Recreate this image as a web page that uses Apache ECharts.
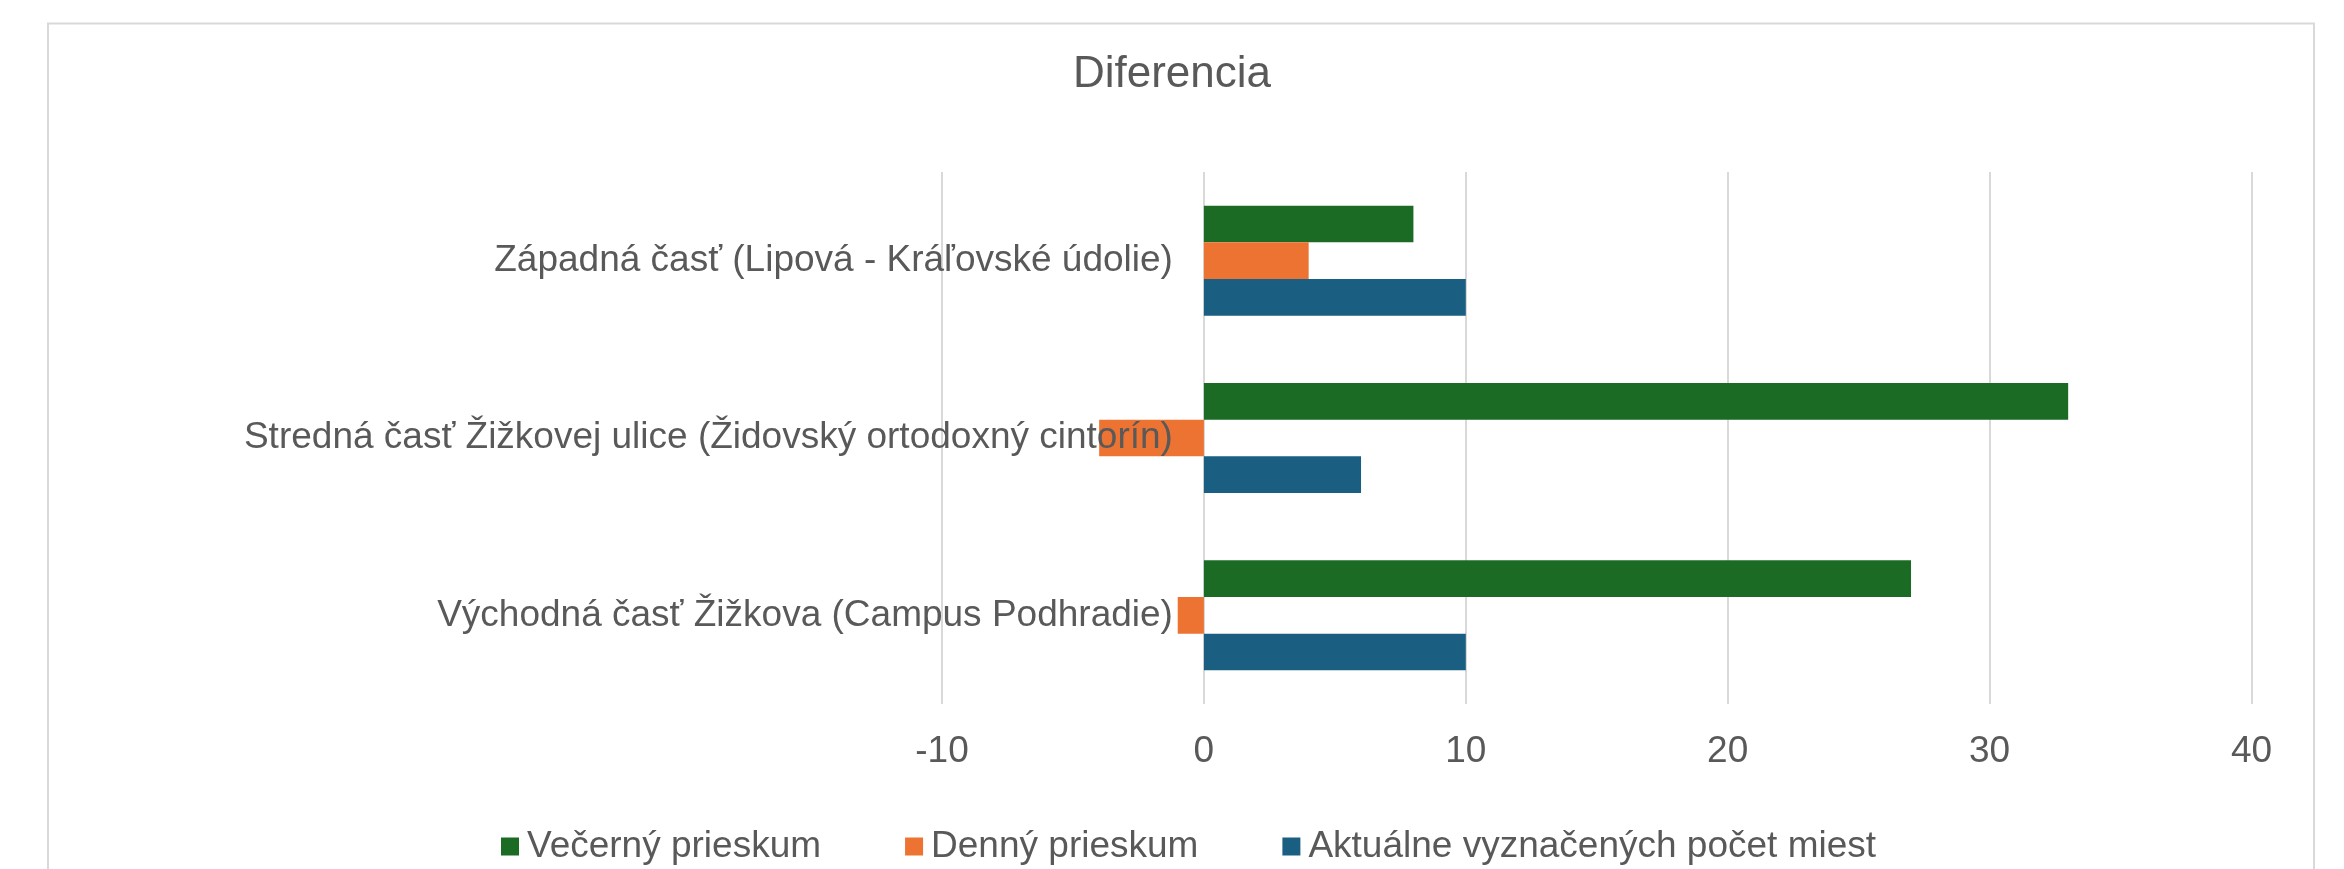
<!DOCTYPE html>
<html>
<head>
<meta charset="utf-8">
<script src="https://cdn.jsdelivr.net/npm/echarts@6/dist/echarts.min.js"></script>
<style>
html,body{margin:0;padding:0;background:#fff;}
#chart{width:2344px;height:869px;}
</style>
</head>
<body>
<div id="chart"></div>
<script>
const titleText = 'Diferencia';
const categories = [
  'Západná časť (Lipová - Kráľovské údolie)',
  'Stredná časť Žižkovej ulice (Židovský ortodoxný cintorín)',
  'Východná časť Žižkova (Campus Podhradie)'
];
const seriesNames = ['Večerný prieskum', 'Denný prieskum', 'Aktuálne vyznačených počet miest'];
const vecerny = [8, 33, 27];
const denny = [4, -4, -1];
const aktualne = [10, 6, 10];
const xTicks = { min: -10, max: 40, interval: 10 };
const colors = ['#1b6b25', '#ed7333', '#1a5f82'];

const chart = echarts.init(document.getElementById('chart'));
const font = 'Liberation Sans, Arial, sans-serif';
const textColor = '#595959';
const valuesList = [vecerny, denny, aktualne];

const gridLeft = 942;
const gridRight = 92.5;
const plotWidth = 2344 - gridLeft - gridRight;
// category axis sits at value 0 (as in the reference), shift it inside the grid
const zeroOffset = -plotWidth * (0 - xTicks.min) / (xTicks.max - xTicks.min);

chart.setOption({
  animation: false,
  backgroundColor: '#ffffff',
  title: {
    text: titleText,
    left: 'center',
    top: 48,
    textStyle: { fontFamily: font, fontSize: 44, fontWeight: 'normal', color: textColor }
  },
  legend: {
    data: seriesNames,
    left: 496,
    top: 823,
    itemWidth: 18,
    itemHeight: 18,
    itemGap: 84,
    icon: 'rect',
    textStyle: { fontFamily: font, fontSize: 37, color: textColor, padding: [0, 0, 0, 3] }
  },
  grid: {
    left: gridLeft,
    right: gridRight,
    top: 172,
    bottom: 165,
    containLabel: false,
    outerBoundsMode: 'none'
  },
  xAxis: {
    type: 'value',
    min: xTicks.min,
    max: xTicks.max,
    interval: xTicks.interval,
    axisLine: { show: false },
    axisTick: { show: false },
    splitLine: { show: true, lineStyle: { color: '#d9d9d9', width: 2 } },
    axisLabel: { fontFamily: font, fontSize: 37, color: textColor, margin: 29 }
  },
  yAxis: {
    type: 'category',
    inverse: true,
    data: categories,
    offset: zeroOffset,
    z: 10,
    axisLine: { show: false, onZero: false },
    axisTick: { show: false },
    splitLine: { show: false },
    axisLabel: { fontFamily: font, fontSize: 37, color: textColor, margin: 31 }
  },
  series: seriesNames.map((name, i) => ({
    name: name,
    type: 'bar',
    data: valuesList[i],
    barGap: '0%',
    barCategoryGap: '38%',
    itemStyle: { color: colors[i] }
  })),
  graphic: [{
    type: 'rect',
    shape: { x: 48, y: 23.5, width: 2266, height: 900 },
    style: { fill: 'none', stroke: '#d9d9d9', lineWidth: 2 },
    silent: true,
    z: -1
  }]
});
</script>
</body>
</html>
